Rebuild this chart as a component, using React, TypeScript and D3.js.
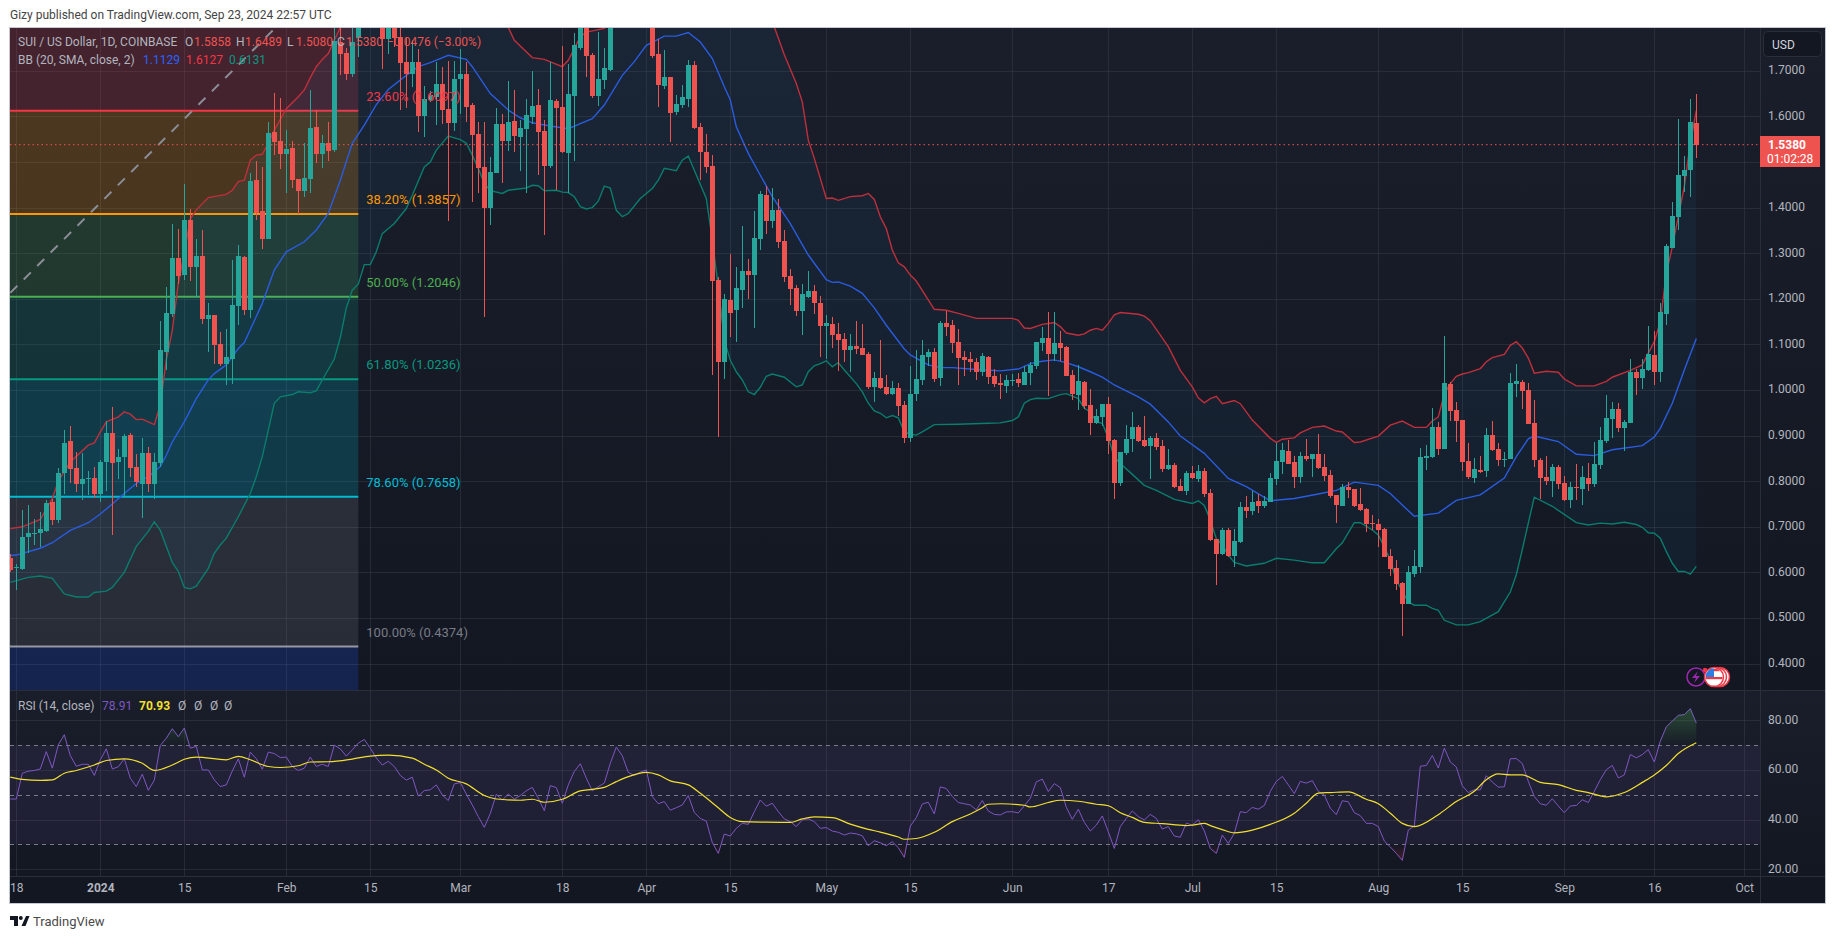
import React, { useEffect, useRef } from "react";
import * as d3 from "d3";

// Candles, one per day from 17 Dec 2023 to 23 Sep 2024
const opens = [
  .631,.609,.607,.677,.684,.686,.691,.754,.715,.818,.888,.829,.794,.805,.807,.772,.843,.905,.842,.853,
  .902,.831,.794,.862,.794,.840,1.083,1.166,1.289,1.252,1.372,1.270,1.294,1.155,1.164,1.101,1.057,1.068,1.184,1.291,
  1.175,1.460,1.392,1.331,1.566,1.546,1.517,1.530,1.462,1.436,1.462,1.576,1.517,1.541,1.526,1.764,1.738,1.694,1.771,1.85,
  1.98,1.92,1.85,1.769,1.83,1.774,1.72,1.693,1.719,1.600,1.637,1.643,1.672,1.616,1.585,1.682,1.692,1.625,1.561,1.489,
  1.399,1.475,1.583,1.546,1.590,1.554,1.572,1.598,1.625,1.568,1.491,1.633,1.620,1.519,1.644,1.750,1.86,1.734,1.644,1.679,
  1.701,1.85,1.92,1.90,1.95,1.91,1.88,1.85,1.736,1.666,1.686,1.609,1.625,1.638,1.712,1.576,1.522,1.491,1.241,1.061,
  1.197,1.175,1.219,1.260,1.252,1.331,1.427,1.370,1.394,1.326,1.250,1.223,1.173,1.204,1.217,1.191,1.140,1.145,1.123,1.112,
  1.087,1.096,1.092,1.079,1.006,1.026,1.006,.991,1.004,.967,.894,.991,1.022,1.072,1.083,1.026,1.147,1.142,1.105,1.072,
  1.068,1.061,1.039,1.072,1.030,1.015,1.009,1.020,1.024,1.011,1.037,1.052,1.103,1.114,1.079,1.103,1.094,1.033,.989,1.017,
  .967,.927,.941,.969,.890,.796,.861,.892,.918,.890,.877,.894,.877,.826,.835,.789,.778,.818,.804,.822,
  .774,.673,.640,.693,.636,.666,.743,.734,.756,.745,.754,.804,.842,.866,.842,.809,.855,.848,.859,.831,
  .813,.769,.745,.787,.782,.750,.739,.708,.706,.695,.636,.609,.576,.530,.597,.612,.850,.853,.918,.870,
  1.013,.956,.934,.844,.807,.824,.822,.901,.870,.847,.849,1.013,1.018,1.000,.928,.847,.810,.801,.831,.796,
  .759,.788,.783,.807,.794,.836,.889,.937,.959,.917,.928,1.040,1.027,1.044,1.077,1.039,1.166,1.312,1.379,1.469,
  1.482,1.5858,
];
const highs = [
  .640,.618,.737,.748,.718,.733,.758,.762,.828,.912,.922,.863,.861,.822,.832,.846,.932,.963,.870,.903,
  .905,.860,.894,.875,.861,1.151,1.226,1.365,1.352,1.451,1.398,1.331,1.351,1.191,1.164,1.128,1.134,1.285,1.318,1.294,
  1.475,1.502,1.490,1.588,1.652,1.641,1.570,1.546,1.462,1.541,1.658,1.615,1.560,1.588,1.85,1.83,1.75,1.82,1.90,2.02,
  2.10,1.96,1.90,1.87,1.87,1.80,1.775,1.767,1.747,1.666,1.656,1.72,1.709,1.721,1.721,1.747,1.72,1.630,1.588,1.588,
  1.510,1.619,1.606,1.677,1.657,1.592,1.638,1.699,1.661,1.592,1.720,1.638,1.754,1.716,1.782,1.88,1.90,1.74,1.784,1.750,
  1.90,1.95,1.98,2.00,2.02,1.97,1.95,1.90,1.769,1.745,1.686,1.646,1.668,1.723,1.721,1.586,1.561,1.515,1.248,1.210,
  1.299,1.269,1.359,1.287,1.392,1.436,1.447,1.443,1.418,1.350,1.265,1.230,1.232,1.261,1.230,1.206,1.164,1.160,1.147,1.125,
  1.123,1.151,1.144,1.083,1.039,1.109,1.033,1.019,1.015,.976,1.052,1.087,1.109,1.090,1.092,1.151,1.173,1.153,1.134,1.085,
  1.083,1.070,1.081,1.074,1.046,1.035,1.033,1.035,1.037,1.052,1.061,1.105,1.138,1.171,1.171,1.129,1.096,1.044,1.055,1.020,
  1.002,.958,.969,.984,.892,.864,.923,.951,.923,.943,.899,.905,.890,.870,.841,.804,.822,.833,.835,.829,
  .782,.673,.698,.697,.695,.754,.767,.778,.772,.767,.818,.883,.883,.890,.855,.864,.892,.859,.903,.859,
  .824,.769,.793,.798,.782,.785,.741,.725,.717,.697,.651,.627,.579,.614,.649,.872,.879,.960,.929,1.118,
  1.017,.973,.934,.883,.851,.855,.916,.932,.883,.864,1.038,1.057,1.022,1.016,.978,.851,.856,.838,.836,.812,
  .799,.838,.834,.840,.886,.919,.989,.974,.972,.935,1.069,1.046,1.069,1.140,1.129,1.190,1.320,1.412,1.594,1.513,
  1.638,1.6489,
];
const lows = [
  .600,.561,.605,.642,.660,.656,.689,.704,.709,.771,.795,.776,.758,.769,.764,.755,.778,.682,.804,.766,
  .810,.788,.720,.777,.761,.832,1.044,1.160,1.232,1.241,1.239,1.201,1.144,1.084,1.057,1.052,1.011,1.013,1.142,1.164,
  1.158,1.372,1.310,1.331,1.515,1.484,1.432,1.442,1.387,1.424,1.432,1.497,1.486,1.502,1.522,1.691,1.680,1.687,1.731,1.82,
  1.88,1.84,1.705,1.736,1.752,1.614,1.619,1.665,1.566,1.555,1.632,1.581,1.583,1.371,1.568,1.606,1.588,1.413,1.431,1.160,
  1.361,1.475,1.453,1.524,1.521,1.480,1.432,1.584,1.471,1.339,1.486,1.438,1.519,1.431,1.502,1.745,1.687,1.64,1.622,1.659,
  1.699,1.82,1.86,1.85,1.88,1.84,1.82,1.728,1.62,1.661,1.544,1.603,1.619,1.621,1.573,1.460,1.475,1.032,.897,1.025,
  1.116,1.106,1.179,1.200,1.135,1.307,1.342,1.356,1.311,1.236,1.186,1.162,1.120,1.202,1.166,1.072,1.068,1.092,1.041,1.061,
  1.039,1.079,1.076,1.003,.973,1.002,.989,.990,.943,.884,.886,.976,1.011,1.052,1.017,1.009,1.118,1.081,1.011,1.030,
  1.039,1.022,1.030,1.013,1.006,.980,.993,1.009,1.006,1.011,1.011,1.046,1.085,.987,1.063,1.063,1.030,.978,.956,.958,
  .901,.925,.921,.859,.761,.789,.857,.864,.886,.875,.804,.868,.820,.824,.785,.778,.769,.804,.798,.766,
  .668,.572,.638,.634,.612,.664,.719,.726,.730,.741,.754,.791,.815,.837,.785,.796,.844,.809,.826,.800,
  .763,.708,.745,.763,.743,.734,.688,.693,.655,.633,.592,.561,.460,.530,.590,.598,.824,.850,.857,.870,
  .932,.886,.822,.804,.796,.818,.809,.866,.833,.831,.848,.985,.959,.926,.831,.761,.792,.766,.783,.757,
  .742,.759,.748,.779,.788,.827,.884,.895,.908,.867,.928,.989,1.003,1.042,1.011,1.018,1.142,1.312,1.350,1.434,
  1.424,1.5080,
];
const closes = [
  .605,.612,.677,.686,.687,.695,.752,.715,.818,.884,.826,.794,.805,.806,.772,.843,.905,.840,.853,.900,
  .829,.798,.862,.794,.842,1.087,1.169,1.289,1.251,1.372,1.270,1.294,1.155,1.164,1.099,1.057,1.072,1.186,1.294,1.175,
  1.458,1.389,1.331,1.563,1.544,1.517,1.528,1.460,1.436,1.465,1.574,1.517,1.541,1.524,1.765,1.737,1.693,1.763,1.85,1.98,
  1.92,1.88,1.769,1.83,1.773,1.717,1.693,1.72,1.600,1.639,1.647,1.672,1.614,1.585,1.682,1.692,1.621,1.560,1.487,1.399,
  1.478,1.583,1.546,1.587,1.557,1.574,1.603,1.622,1.565,1.491,1.636,1.618,1.522,1.649,1.756,1.83,1.732,1.644,1.682,1.706,
  1.85,1.92,1.90,1.95,1.91,1.88,1.85,1.732,1.668,1.686,1.607,1.627,1.642,1.712,1.574,1.522,1.489,1.239,1.061,1.199,
  1.168,1.223,1.261,1.252,1.333,1.429,1.370,1.394,1.324,1.247,1.221,1.173,1.210,1.217,1.191,1.140,1.147,1.120,1.109,1.087,
  1.096,1.090,1.077,1.006,1.026,1.004,.991,1.004,.965,.894,.991,1.024,1.077,1.083,1.024,1.147,1.138,1.103,1.070,1.066,
  1.061,1.039,1.074,1.028,1.013,1.011,1.022,1.022,1.015,1.039,1.055,1.105,1.114,1.079,1.103,1.092,1.030,.991,1.020,.965,
  .927,.943,.969,.888,.796,.864,.892,.918,.888,.877,.894,.875,.826,.835,.787,.778,.818,.807,.822,.772,
  .671,.640,.693,.636,.669,.743,.734,.754,.745,.756,.807,.844,.868,.837,.809,.855,.848,.859,.829,.811,
  .767,.747,.787,.780,.745,.737,.706,.706,.693,.633,.607,.574,.530,.600,.614,.853,.855,.918,.870,1.015,
  .954,.932,.842,.809,.826,.821,.901,.868,.846,.849,1.016,1.020,.998,.926,.847,.807,.801,.831,.794,.759,
  .788,.785,.810,.794,.838,.891,.939,.959,.917,.930,1.040,1.027,1.046,1.079,1.040,1.171,1.315,1.381,1.471,1.482,
  1.587,1.5380,
];

// Bollinger bands as [day index, price] points
const bbUpper: [number, number][] = [
  [0,.696],[2,.700],[5,.716],[7,.762],[8,.800],[10,.842],[13,.879],[14,.884],[15,.908],[16,.930],[18,.941],[19,.952],[20,.947],[21,.935],[22,.936],[23,.930],[24,.924],[25,.967],[26,1.066],[27,1.131],[28,1.234],[29,1.30],[30,1.375],[31,1.395],[33,1.422],[36,1.429],[37,1.438],[38,1.457],[39,1.460],[40,1.504],[41,1.515],[42,1.517],[43,1.541],[44,1.570],[46,1.617],[48,1.643],[49,1.658],[50,1.685],[51,1.709],[52,1.725],[53,1.738],[54,1.767],[55,1.795],[56,1.82],[60,1.92],[65,1.98],[70,1.95],[75,1.90],[80,1.84],[83,1.795],[84,1.767],[87,1.729],[89,1.725],[92,1.709],[93,1.723],[95,1.775],[96,1.785],[99,1.793],[100,1.81],[105,1.90],[110,2.0],[118,2.1],[122,2.0],[125,1.88],[128,1.772],[129,1.735],[131,1.672],[132,1.632],[133,1.548],[134,1.508],[136,1.420],[137,1.421],[138,1.416],[140,1.424],[142,1.426],[143,1.431],[144,1.418],[145,1.380],[146,1.354],[147,1.307],[148,1.279],[149,1.270],[150,1.252],[151,1.239],[154,1.177],[156,1.175],[158,1.168],[161,1.157],[167,1.157],[168,1.153],[169,1.136],[170,1.135],[172,1.144],[174,1.148],[175,1.139],[176,1.125],[178,1.120],[179,1.123],[180,1.131],[181,1.135],[182,1.131],[183,1.146],[184,1.165],[185,1.170],[188,1.166],[189,1.162],[190,1.152],[193,1.095],[195,1.043],[197,1.007],[198,.983],[199,.972],[200,.981],[201,.986],[202,.970],[204,.977],[205,.970],[207,.934],[210,.894],[211,.885],[212,.892],[214,.895],[215,.906],[217,.918],[219,.921],[221,.910],[222,.908],[224,.885],[225,.886],[228,.899],[230,.923],[232,.932],[234,.918],[236,.918],[237,.932],[238,.941],[239,.992],[240,1.014],[241,1.030],[242,1.035],[243,1.038],[245,1.047],[246,1.062],[247,1.071],[249,1.078],[250,1.098],[251,1.106],[252,1.092],[253,1.070],[254,1.037],[256,1.041],[258,1.039],[259,1.024],[261,1.009],[264,1.009],[266,1.019],[267,1.028],[270,1.043],[272,1.055],[273,1.081],[274,1.106],[275,1.15],[276,1.255],[277,1.314],[278,1.380],[279,1.446],[280,1.541],[281,1.6127],
];
const bbMiddle: [number, number][] = [
  [0,.637],[1,.638],[5,.653],[7,.665],[10,.692],[13,.709],[15,.728],[17,.750],[19,.773],[21,.795],[23,.810],[25,.832],[26,.857],[27,.886],[29,.930],[31,.981],[33,1.022],[34,1.036],[36,1.055],[38,1.091],[39,1.104],[42,1.190],[44,1.263],[46,1.303],[49,1.325],[51,1.351],[53,1.387],[55,1.460],[57,1.541],[59,1.581],[61,1.626],[63,1.659],[66,1.690],[68,1.709],[70,1.718],[73,1.734],[76,1.725],[77,1.709],[80,1.650],[83,1.614],[85,1.597],[87,1.586],[90,1.579],[93,1.573],[95,1.584],[97,1.595],[99,1.625],[102,1.690],[104,1.720],[106,1.756],[109,1.776],[111,1.776],[113,1.784],[115,1.763],[117,1.727],[119,1.665],[120,1.636],[121,1.577],[123,1.519],[125,1.471],[127,1.424],[130,1.365],[133,1.296],[136,1.242],[137,1.236],[138,1.237],[140,1.228],[142,1.212],[144,1.180],[146,1.142],[149,1.090],[150,1.077],[153,1.055],[155,1.049],[157,1.049],[161,1.045],[165,1.042],[168,1.046],[170,1.058],[172,1.063],[174,1.066],[176,1.060],[178,1.051],[180,1.040],[182,1.028],[184,1.011],[188,.985],[190,.969],[193,.930],[195,.899],[199,.861],[203,.806],[206,.788],[210,.757],[214,.762],[218,.772],[221,.780],[224,.798],[228,.791],[230,.773],[232,.748],[234,.723],[238,.730],[241,.758],[245,.770],[249,.807],[251,.854],[253,.893],[254,.899],[258,.887],[261,.859],[264,.856],[267,.869],[272,.878],[274,.897],[275,.916],[277,.971],[279,1.044],[281,1.1129],
];
const bbLower: [number, number][] = [
  [0,.578],[3,.589],[5,.592],[7,.587],[9,.553],[11,.546],[13,.546],[14,.556],[16,.559],[17,.567],[19,.600],[21,.657],[23,.690],[24,.711],[25,.692],[27,.622],[28,.602],[29,.567],[30,.564],[31,.570],[33,.609],[34,.642],[35,.660],[36,.675],[38,.722],[40,.773],[41,.810],[42,.854],[43,.912],[44,.971],[45,.985],[47,.990],[48,.996],[50,.994],[51,.998],[52,1.022],[54,1.068],[55,1.115],[56,1.180],[57,1.219],[58,1.232],[59,1.275],[60,1.275],[61,1.303],[62,1.343],[64,1.365],[66,1.398],[67,1.427],[69,1.489],[70,1.500],[71,1.526],[73,1.557],[75,1.549],[76,1.541],[77,1.515],[78,1.486],[79,1.453],[80,1.437],[82,1.431],[83,1.438],[86,1.443],[87,1.449],[88,1.448],[89,1.437],[91,1.438],[92,1.434],[93,1.433],[94,1.424],[95,1.402],[96,1.397],[97,1.400],[98,1.414],[99,1.447],[100,1.443],[101,1.394],[102,1.380],[103,1.387],[105,1.420],[107,1.442],[108,1.460],[109,1.486],[111,1.481],[112,1.504],[113,1.513],[114,1.482],[116,1.420],[117,1.329],[118,1.226],[119,1.110],[120,1.065],[121,1.040],[122,1.022],[123,.996],[124,.990],[125,1.006],[126,1.030],[127,1.035],[129,1.028],[131,1.007],[132,1.011],[133,1.040],[134,1.053],[135,1.058],[136,1.064],[137,1.051],[138,1.060],[139,1.044],[141,1.014],[142,.996],[143,.971],[144,.954],[145,.949],[146,.939],[147,.944],[148,.939],[149,.908],[150,.903],[151,.901],[152,.908],[154,.924],[158,.925],[163,.927],[165,.928],[167,.933],[168,.941],[169,.971],[170,.979],[171,.982],[173,.981],[175,.990],[176,.992],[178,.981],[179,.960],[180,.952],[181,.930],[182,.927],[183,.895],[184,.853],[185,.839],[187,.815],[189,.791],[191,.780],[194,.760],[197,.751],[198,.757],[199,.747],[200,.715],[201,.674],[202,.660],[203,.638],[204,.622],[206,.614],[209,.620],[211,.631],[214,.627],[217,.621],[219,.621],[221,.652],[222,.665],[224,.709],[225,.709],[227,.693],[228,.682],[229,.656],[230,.627],[231,.583],[233,.535],[234,.528],[236,.528],[237,.521],[238,.517],[239,.495],[241,.485],[243,.485],[245,.492],[248,.514],[250,.557],[251,.595],[252,.650],[253,.708],[254,.765],[257,.745],[261,.709],[263,.704],[265,.708],[267,.706],[269,.710],[271,.705],[272,.699],[273,.687],[274,.686],[275,.675],[276,.646],[277,.620],[278,.602],[279,.602],[280,.596],[281,.6131],
];

// RSI (14), one value per day
const rsi = [
  48.3,48.3,58.7,59.5,59.8,60.4,67.4,60.7,70.1,74.2,65.8,61.5,62.3,62.3,57.8,64.1,68.5,60.4,61.3,64.5,
  56.7,53.3,58.3,51.8,55.9,69.9,72.8,76.6,73.4,76.9,68.8,69.5,60,60,56,53.3,54,59.6,64.5,57.1,
  67.2,64.5,60.3,67.2,66.6,65,65.2,61.4,59.8,60.7,65.2,61.4,62.3,61.4,70,68.5,65.6,68.1,70.8,72.3,
  68.8,64.8,62,63.5,61.4,57.8,55.9,57.1,49.5,51.7,52,54,49.9,47.7,54.4,54.9,50.3,45.9,41.2,36.9,
  42.5,50.2,47.9,50.3,48.3,49.7,51.6,53,48.6,43.6,53.7,52.9,46.6,54,59.4,62.5,56.7,51.6,53.3,54.7,
  62.7,69.2,65.7,59,57.8,59.1,60,49.3,46.4,47.3,43.8,44.8,45.9,49.7,42.9,40.5,39.4,30.8,26.4,34.2,
  33.4,36.5,38.5,38.1,43.2,47.9,45.4,46.6,43.2,40.3,39.2,37.2,39.9,40.3,39.2,36.5,36.8,35.4,34.9,33.8,
  34.6,34.3,33.5,29.5,31.5,30.7,29.5,31.1,28.7,24.8,37.4,40.8,46.3,47,42.3,53.2,52.5,49.3,46.9,46.4,
  45.9,43.9,47.7,43.5,42.1,41.9,43.1,43.2,42.7,45.6,48.6,55.2,56.3,51.3,54.5,52.9,45,40.1,44.2,38.9,
  35.4,37.8,41.5,35.1,28.4,37.2,40.5,43.5,41.2,39.9,42.1,40.5,36.2,37.2,33.4,32.9,38.6,37.8,40,35.5,
  28.4,26.4,33.8,30.4,34.5,43.2,42.8,44.9,44.2,45.7,51.4,55.4,57.4,54,50.5,55.4,54.7,55.7,51.4,49.9,
  44.6,42,47.6,47.2,42.8,41.6,38.5,38.5,37.2,31.4,29,26.4,23.6,35.8,37.4,61.5,61.8,65.8,60.8,68.8,
  63.2,61.2,53.6,50.9,52,52,57.7,55.1,53.1,53.2,64.5,64.6,62.6,55.4,49.3,46.4,45.8,48.4,45.5,42.8,
  45.5,45.7,48,46.9,51.4,56.1,60.1,61.8,56.8,58,66.2,64.9,66.2,68.2,63.2,71.6,77.4,79.7,82,82.3,
  84.7,78.91,
];
const rsiMa: [number, number][] = [
  [0,57.1],[2,56.2],[5,55.8],[7,56],[9,58.7],[11,59.8],[14,62],[16,63.8],[19,64.5],[22,62.7],[24,59.8],[27,62],[29,64.3],[31,65.2],[36,64.1],[38,65.5],[40,64.1],[43,61.4],[45,61],[48,61.7],[50,63.2],[53,63.3],[57,64.4],[60,65.6],[63,66],[67,64.8],[69,62.3],[71,60],[73,56.7],[76,54.4],[79,49.7],[81,48.3],[85,47.8],[87,48.2],[89,47],[92,48.2],[95,51.6],[97,52.2],[99,53],[101,55.3],[103,57.3],[106,59],[108,58],[110,55.6],[113,54],[115,50.6],[118,44.8],[120,40.9],[122,39.2],[126,39],[130,38.9],[132,40.3],[134,41.1],[137,40.8],[140,38.2],[143,36.1],[145,35],[148,33],[149,32.1],[151,32.4],[154,34.9],[157,39.2],[160,42.3],[162,44.8],[163,46.2],[165,46.4],[169,45.8],[170,45.1],[173,46.9],[175,47.8],[178,47.4],[181,46.2],[183,45.6],[185,42.8],[187,40.9],[189,38.9],[192,38.4],[196,37.6],[197,37.8],[199,38.5],[200,37.6],[202,36],[204,34.7],[207,35.8],[210,38.1],[214,42.6],[216,46.6],[218,50.7],[220,50.9],[223,51.2],[226,48.2],[228,46.4],[230,42.6],[232,38.5],[234,37.2],[238,42],[241,47.3],[244,51.4],[246,56.1],[248,58.4],[250,58],[252,58],[255,55],[258,54.1],[261,51.8],[263,50.9],[266,49.2],[269,50.9],[272,55],[274,58],[276,61.8],[278,66.6],[281,70.93],
];

// Fibonacci levels and their fills
const fibLevels = [1.972, 1.6126, 1.3857, 1.2046, 1.0236, 0.7658, 0.4374];
const fibNames = ["", "23.60% (1.6097)", "38.20% (1.3857)", "50.00% (1.2046)", "61.80% (1.0236)", "78.60% (0.7658)", "100.00% (0.4374)"];
const fibColors = ["#f23645", "#f23645", "#ff9800", "#4caf50", "#089981", "#00bcd4", "#787b86"];
const fibFills = [
  "rgba(242,54,69,0.2)", "rgba(255,152,0,0.22)", "rgba(76,175,80,0.2)", "rgba(8,153,129,0.2)",
  "rgba(0,188,212,0.2)", "rgba(120,123,134,0.22)", "rgba(33,87,243,0.22)",
];
const fibEndDay = 58;

const priceTicks = [0.4, 0.5, 0.6, 0.7, 0.8, 0.9, 1.0, 1.1, 1.2, 1.3, 1.4, 1.5, 1.6, 1.7];
const priceLabelTicks = priceTicks.filter(t => t !== 1.5); // 1.5 sits under the last price tag
const rsiTicks = [20, 40, 60, 80];
const rsiLevels = [70, 50, 30];
const timeTicks = [1, 15, 29, 46, 60, 75, 92, 106, 120, 136, 150, 167, 183, 197, 211, 228, 242, 259, 274, 289];
const timeLabels = ["18", "2024", "15", "Feb", "15", "Mar", "18", "Apr", "15", "May", "15", "Jun", "17", "Jul", "15", "Aug", "15", "Sep", "16", "Oct"];

const FONT = "Roboto, sans-serif";
const UP = "#26a69a";
const DOWN = "#ef5350";

export default function App() {
  const ref = useRef<SVGSVGElement>(null);

  useEffect(() => {
    const svg = d3.select(ref.current);
    svg.selectAll("*").remove();

    const left = 10, right = 1760, frameRight = 1825;
    const top = 27, priceBottom = 690, rsiBottom = 876, frameBottom = 903;

    const start = new Date(Date.UTC(2023, 11, 17));
    const x = d3.scaleUtc()
      .domain([start, d3.utcDay.offset(start, 281)])
      .range([10.3, 1696.3]);
    const xDay = (i: number) => x(d3.utcDay.offset(start, i));
    const y = d3.scaleLinear().domain([0.4, 1.7]).range([663.6, 70.8]);
    const yRsi = d3.scaleLinear().domain([20, 80]).range([869.3, 720.3]);

    const defs = svg.append("defs");
    const grad = (id: string, from: string, to: string) => {
      const g = defs.append("linearGradient").attr("id", id).attr("x1", 0).attr("x2", 0).attr("y1", 0).attr("y2", 1);
      g.append("stop").attr("offset", "0%").attr("stop-color", from);
      g.append("stop").attr("offset", "100%").attr("stop-color", to);
    };
    grad("paneBg", "#1a1e2a", "#131722");
    const gradFixed = (id: string, y1: number, y2: number, from: string, to: string) => {
      const g = defs.append("linearGradient").attr("id", id).attr("gradientUnits", "userSpaceOnUse")
        .attr("x1", 0).attr("x2", 0).attr("y1", y1).attr("y2", y2);
      g.append("stop").attr("offset", "0%").attr("stop-color", from);
      g.append("stop").attr("offset", "100%").attr("stop-color", to);
    };
    gradFixed("over", yRsi(85), yRsi(70), "rgba(76,175,80,0.32)", "rgba(76,175,80,0)");
    gradFixed("under", yRsi(30), yRsi(20), "rgba(242,54,69,0)", "rgba(242,54,69,0.32)");
    const clip = (id: string, cx: number, cy: number, w: number, h: number) =>
      defs.append("clipPath").attr("id", id).append("rect").attr("x", cx).attr("y", cy).attr("width", w).attr("height", h);
    clip("priceClip", left, top, right - left, priceBottom - top);
    clip("rsiClip", left, priceBottom, right - left, rsiBottom - priceBottom);
    clip("aboveClip", left, priceBottom, right - left, yRsi(70) - priceBottom);
    clip("belowClip", left, yRsi(30), right - left, rsiBottom - yRsi(30));

    // Page and pane backgrounds
    svg.append("rect").attr("width", 1835).attr("height", 939).attr("fill", "#fff");
    svg.append("rect").attr("x", left).attr("y", top).attr("width", frameRight - left).attr("height", priceBottom - top).attr("fill", "url(#paneBg)");
    svg.append("rect").attr("x", left).attr("y", priceBottom).attr("width", frameRight - left).attr("height", rsiBottom - priceBottom).attr("fill", "url(#paneBg)");
    svg.append("rect").attr("x", left).attr("y", rsiBottom).attr("width", frameRight - left).attr("height", frameBottom - rsiBottom).attr("fill", "#131722");

    // Grid
    const grid = svg.append("g").attr("stroke", "rgba(54,58,69,0.55)").attr("shape-rendering", "crispEdges");
    timeTicks.forEach(t => {
      grid.append("line").attr("x1", Math.round(xDay(t))).attr("x2", Math.round(xDay(t))).attr("y1", top).attr("y2", rsiBottom);
    });
    priceTicks.forEach(t => {
      grid.append("line").attr("x1", left).attr("x2", right).attr("y1", Math.round(y(t))).attr("y2", Math.round(y(t)));
    });
    rsiTicks.forEach(t => {
      grid.append("line").attr("x1", left).attr("x2", right).attr("y1", Math.round(yRsi(t))).attr("y2", Math.round(yRsi(t)));
    });

    // Price pane
    const price = svg.append("g").attr("clip-path", "url(#priceClip)");
    const fibRight = xDay(fibEndDay);
    const fibBottoms = [...fibLevels.slice(1).map(l => y(l)), priceBottom];
    fibFills.forEach((fill, k) => {
      const yTop = y(fibLevels[k]);
      price.append("rect").attr("x", left).attr("y", yTop).attr("width", fibRight - left).attr("height", fibBottoms[k] - yTop).attr("fill", fill);
    });
    fibLevels.forEach((l, k) => {
      price.append("line").attr("x1", left).attr("x2", fibRight).attr("y1", y(l)).attr("y2", y(l))
        .attr("stroke", k === 6 ? "#9598a1" : fibColors[k]).attr("stroke-width", 2);
    });

    // Dashed trend line across the fib
    price.append("line")
      .attr("x1", xDay(0)).attr("y1", y(1.213)).attr("x2", xDay(fibEndDay)).attr("y2", y(1.976))
      .attr("stroke", "#8a8d96").attr("stroke-width", 2).attr("stroke-dasharray", "10 9");

    // Bollinger bands
    const bbLine = d3.line<[number, number]>().x(d => xDay(d[0])).y(d => y(d[1]));
    const fillPts = [...bbUpper, ...[...bbLower].reverse()];
    price.append("path").attr("d", bbLine(fillPts) + "Z").attr("fill", "rgba(33,150,243,0.06)");
    const bands: [[number, number][], string][] = [[bbUpper, "#bf2f3c"], [bbMiddle, "#2a5ce0"], [bbLower, "#0a7d6c"]];
    bands.forEach(([pts, color]) => {
      price.append("path").attr("d", bbLine(pts)).attr("fill", "none").attr("stroke", color).attr("stroke-width", 1.4);
    });

    // Last price dotted line
    price.append("line").attr("x1", left).attr("x2", right).attr("y1", y(1.538)).attr("y2", y(1.538))
      .attr("stroke", DOWN).attr("stroke-dasharray", "1.5 3");

    // Candles
    const candles = price.append("g").attr("shape-rendering", "crispEdges");
    closes.forEach((c, i) => {
      const o = opens[i];
      const color = c >= o ? UP : DOWN;
      const cx = Math.round(xDay(i));
      const yA = y(Math.max(o, c));
      const h = Math.max(1, Math.abs(y(o) - y(c)));
      candles.append("rect").attr("x", cx).attr("width", 1).attr("y", y(highs[i])).attr("height", y(lows[i]) - y(highs[i])).attr("fill", color);
      candles.append("rect").attr("x", cx - 2).attr("width", 5).attr("y", yA).attr("height", h).attr("fill", color);
    });

    // Fib labels
    fibLevels.forEach((l, k) => {
      if (!fibNames[k]) return;
      svg.append("text").attr("x", fibRight + 8).attr("y", y(l) - 10)
        .attr("font-family", FONT).attr("font-size", 13).attr("fill", fibColors[k])
        .text(fibNames[k]);
    });

    // RSI pane
    const rsiPane = svg.append("g").attr("clip-path", "url(#rsiClip)");
    rsiPane.append("rect").attr("x", left).attr("width", right - left).attr("y", yRsi(70)).attr("height", yRsi(30) - yRsi(70)).attr("fill", "rgba(126,87,194,0.1)");
    const rsiLineGen = d3.line<number>().x((_, i) => xDay(i)).y(d => yRsi(d));
    const areaOver = d3.area<number>().x((_, i) => xDay(i)).y0(yRsi(70)).y1(d => yRsi(d));
    const areaUnder = d3.area<number>().x((_, i) => xDay(i)).y0(yRsi(30)).y1(d => yRsi(d));
    svg.append("g").attr("clip-path", "url(#aboveClip)").append("path").attr("d", areaOver(rsi)).attr("fill", "url(#over)");
    svg.append("g").attr("clip-path", "url(#belowClip)").append("path").attr("d", areaUnder(rsi)).attr("fill", "url(#under)");
    rsiLevels.forEach(l => {
      rsiPane.append("line").attr("x1", left).attr("x2", right).attr("y1", Math.round(yRsi(l)) + 0.5).attr("y2", Math.round(yRsi(l)) + 0.5)
        .attr("stroke", "#787b86").attr("stroke-dasharray", "4 4");
    });
    rsiPane.append("path").attr("d", rsiLineGen(rsi)).attr("fill", "none").attr("stroke", "#7e57c2").attr("stroke-width", 1);
    rsiPane.append("path")
      .attr("d", d3.line<[number, number]>().x(d => xDay(d[0])).y(d => yRsi(d[1])).curve(d3.curveMonotoneX)(rsiMa))
      .attr("fill", "none").attr("stroke", "#f2e02e").attr("stroke-width", 1.2);

    // Axes
    const styleAxis = (g: any) => {
      g.select(".domain").remove();
      g.selectAll("line").remove();
      g.selectAll("text").attr("font-family", FONT).attr("font-size", 12).attr("fill", "#b2b5be");
    };
    svg.append("g").attr("transform", `translate(${right},-1)`)
      .call(d3.axisRight(y).tickValues(priceLabelTicks).tickFormat(d3.format(".4f") as any).tickSize(0).tickPadding(8))
      .call(styleAxis);
    svg.append("g").attr("transform", `translate(${right},-1)`)
      .call(d3.axisRight(yRsi).tickValues(rsiTicks).tickFormat(d3.format(".2f") as any).tickSize(0).tickPadding(8))
      .call(styleAxis);
    svg.append("g").attr("transform", `translate(0,${rsiBottom})`)
      .call(
        d3.axisBottom(x)
          .tickValues(timeTicks.map(t => d3.utcDay.offset(start, t)))
          .tickFormat((_, k) => timeLabels[k])
          .tickSize(0)
          .tickPadding(7)
      )
      .call(styleAxis)
      .call((g: any) => g.selectAll("text").filter((_: any, k: number) => timeLabels[k] === "2024").attr("font-weight", 700));

    // Pane separators
    const sep = svg.append("g").attr("stroke", "#2a2e39").attr("shape-rendering", "crispEdges");
    sep.append("line").attr("x1", left).attr("x2", frameRight).attr("y1", priceBottom).attr("y2", priceBottom);
    sep.append("line").attr("x1", left).attr("x2", frameRight).attr("y1", rsiBottom).attr("y2", rsiBottom);
    sep.append("line").attr("x1", right).attr("x2", right).attr("y1", top).attr("y2", frameBottom);

    // Legend text
    const label = (tx: number, ty: number, s: string, fill: string, weight = 400, size = 12) =>
      svg.append("text").attr("x", tx).attr("y", ty).attr("font-family", FONT).attr("font-size", size)
        .attr("font-weight", weight).attr("fill", fill).text(s);
    label(18, 46, "SUI / US Dollar, 1D, COINBASE", "#b2b5be");
    [["O", "1.5858", 185], ["H", "1.6489", 236], ["L", "1.5080", 287], ["C", "1.5380", 337]].forEach(([k, v, tx]) => {
      label(tx as number, 46, k as string, "#b2b5be");
      label((tx as number) + 9, 46, v as string, DOWN);
    });
    label(387, 46, "−0.0476 (−3.00%)", DOWN);
    label(18, 64, "BB (20, SMA, close, 2)", "#b2b5be");
    label(143, 64, "1.1129", "#2962ff");
    label(186, 64, "1.6127", "#f23645");
    label(229, 64, "0.6131", "#089981");
    label(18, 710, "RSI (14, close)", "#b2b5be");
    label(102, 710, "78.91", "#7e57c2");
    label(139, 710, "70.93", "#f7e02b", 700);
    [178, 194, 210, 224].forEach(tx => label(tx, 710, "Ø", "#b2b5be"));

    // USD button and last price tag
    svg.append("rect").attr("x", 1763.5).attr("y", 31.5).attr("width", 58).attr("height", 25).attr("rx", 4)
      .attr("fill", "#131722").attr("stroke", "#2a2e39");
    label(1772, 49, "USD", "#d1d4dc");
    svg.append("rect").attr("x", 1760).attr("y", 136).attr("width", 60).attr("height", 31).attr("fill", DOWN);
    label(1768, 149, "1.5380", "#fff", 700);
    label(1767, 163, "01:02:28", "#fff");

    // Event icons
    const icons = svg.append("g");
    icons.append("circle").attr("cx", 1696).attr("cy", 677).attr("r", 9).attr("fill", "#131722").attr("stroke", "#9c27b0").attr("stroke-width", 1.5);
    icons.append("path").attr("d", "M1698 671 L1692 678 L1696 678 L1694 683 L1700 676 L1696 676 Z").attr("fill", "#9c27b0");
    icons.append("circle").attr("cx", 1720).attr("cy", 677).attr("r", 9.5).attr("fill", "#fff").attr("stroke", "#f23645").attr("stroke-width", 1.5);
    icons.append("circle").attr("cx", 1717).attr("cy", 677).attr("r", 9.5).attr("fill", "#fff").attr("stroke", "#f23645").attr("stroke-width", 1.5);
    icons.append("circle").attr("cx", 1714).attr("cy", 677).attr("r", 9.5).attr("fill", "#fff").attr("stroke", "#f23645").attr("stroke-width", 1.5);
    defs.append("clipPath").attr("id", "flagClip").append("circle").attr("cx", 1714).attr("cy", 677).attr("r", 8.5);
    const flag = icons.append("g").attr("clip-path", "url(#flagClip)");
    [669, 673, 677, 681, 685].forEach((sy, k) => {
      if (k % 2 === 0) flag.append("rect").attr("x", 1704).attr("y", sy).attr("width", 20).attr("height", 2.2).attr("fill", "#f23645");
    });
    flag.append("rect").attr("x", 1704).attr("y", 668).attr("width", 10).attr("height", 9).attr("fill", "#2e7de0");
    icons.append("circle").attr("cx", 1705).attr("cy", 670).attr("r", 2.2).attr("fill", "#f23645");

    // Frame
    svg.append("rect").attr("x", 9.5).attr("y", 27.5).attr("width", frameRight - 9).attr("height", frameBottom - 27)
      .attr("fill", "none").attr("stroke", "#c5c8d0").attr("shape-rendering", "crispEdges");

    // Header and footer
    svg.append("text").attr("x", 10).attr("y", 19).attr("font-family", FONT).attr("font-size", 12).attr("fill", "#444")
      .text("Gizy published on TradingView.com, Sep 23, 2024 22:57 UTC");
    svg.append("path").attr("d", "M10 916h8v10h-4v-6h-4z M26 916h3.5l-4 10h-4z").attr("fill", "#131722");
    svg.append("circle").attr("cx", 20.8).attr("cy", 918).attr("r", 2).attr("fill", "#131722");
    svg.append("text").attr("x", 33).attr("y", 926).attr("font-family", FONT).attr("font-size", 13).attr("fill", "#4a4a4a")
      .text("TradingView");
  }, []);

  return <svg ref={ref} width={1835} height={939} style={{ position: "fixed", top: 0, left: 0, display: "block" }} />;
}
